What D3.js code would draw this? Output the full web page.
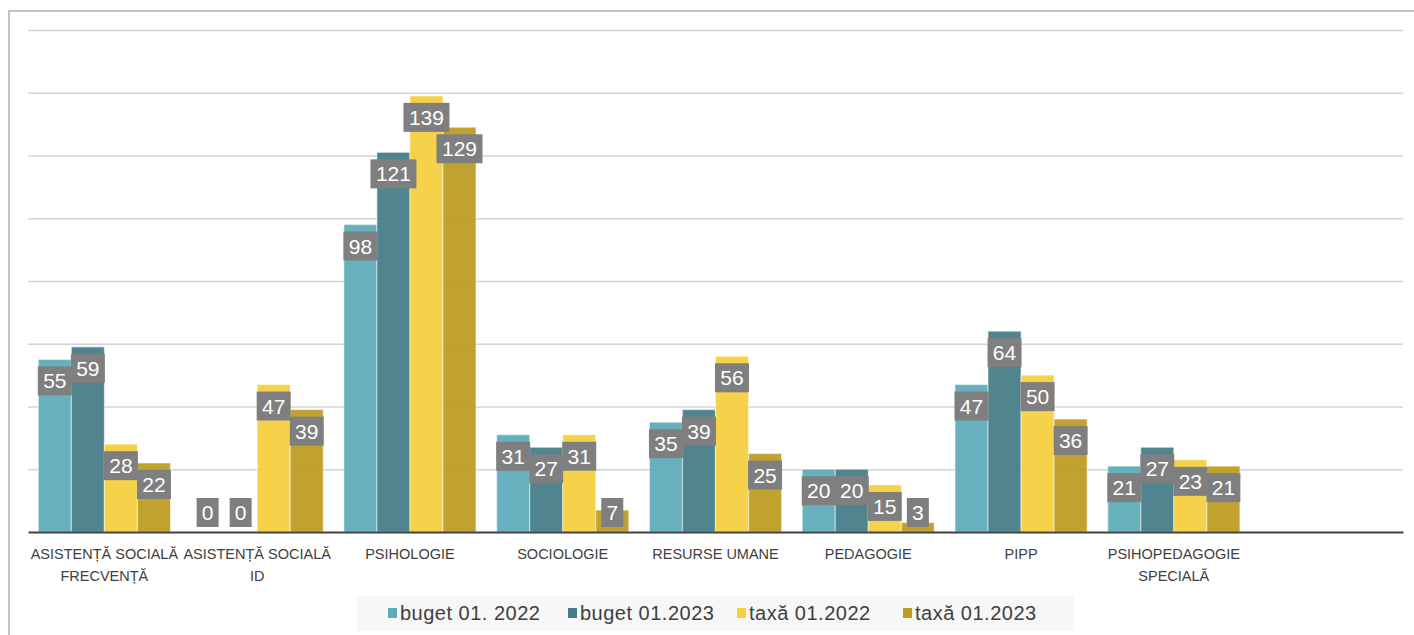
<!DOCTYPE html>
<html><head><meta charset="utf-8">
<script src="https://cdn.jsdelivr.net/npm/d3@7"></script>
<style>
html,body{margin:0;padding:0;background:#fff;}
svg{display:block;font-family:"Liberation Sans",Arial,sans-serif;}
</style></head><body>
<svg id="chart" width="1414" height="635"></svg>
<script>
const categories = ["ASISTENȚĂ SOCIALĂ FRECVENȚĂ","ASISTENȚĂ SOCIALĂ ID","PSIHOLOGIE","SOCIOLOGIE","RESURSE UMANE","PEDAGOGIE","PIPP","PSIHOPEDAGOGIE SPECIALĂ",""];
const categoryLines = [["ASISTENȚĂ SOCIALĂ","FRECVENȚĂ"],["ASISTENȚĂ SOCIALĂ","ID"],["PSIHOLOGIE"],["SOCIOLOGIE"],["RESURSE UMANE"],["PEDAGOGIE"],["PIPP"],["PSIHOPEDAGOGIE","SPECIALĂ"],[]];
const seriesNames = ["buget 01. 2022","buget 01.2023","taxă 01.2022","taxă 01.2023"];
const buget2022 = [55,0,98,31,35,20,47,21];
const buget2023 = [59,0,121,27,39,20,64,27];
const taxa2022 = [28,47,139,31,56,15,50,23];
const taxa2023 = [22,39,129,7,25,3,36,21];
const yTicks = [0,20,40,60,80,100,120,140,160];
const seriesValues = [buget2022,buget2023,taxa2022,taxa2023];
const colors = ["#5BABBA","#437C88","#F5CF3C","#BC9B20"];

const svg = d3.select("#chart");
const margin = {left:28,right:11,top:30,bottom:103};
const W = 1414, H = 635;
const x0 = d3.scaleBand().domain(d3.range(categories.length)).range([margin.left, W-margin.right]).paddingInner(0.135).paddingOuter(0.0675);
const x1 = d3.scaleBand().domain(d3.range(seriesNames.length)).range([0, x0.bandwidth()]);
const y = d3.scaleLinear().domain([0,160]).range([H-margin.bottom, margin.top]);

// frame
svg.append("line").attr("x1",9).attr("x2",9).attr("y1",10).attr("y2",H).attr("stroke","#c4c4c4").attr("stroke-width",2);
svg.append("line").attr("x1",8).attr("x2",W).attr("y1",11).attr("y2",11).attr("stroke","#c4c4c4").attr("stroke-width",2);

// grid
const grid = d3.axisLeft(y).tickValues(yTicks.slice(1)).tickSize(-(W-margin.left-margin.right)).tickFormat("");
const gg = svg.append("g").attr("transform",`translate(${margin.left},0)`).call(grid);
gg.select(".domain").remove();
gg.selectAll(".tick line").attr("stroke","#d4d4d4").attr("stroke-width",1.3);

// bars
const groups = svg.append("g").selectAll("g").data(categories.slice(0,8)).join("g")
  .attr("transform",(d,i)=>`translate(${x0(i)},0)`);
groups.each(function(d,i){
  const g = d3.select(this);
  seriesValues.forEach((vals,s)=>{
    const v = vals[i];
    if(v>0){
      g.append("rect").attr("x",x1(s)).attr("width",x1.bandwidth())
        .attr("y",y(v)).attr("height",y(0)-y(v))
        .attr("fill",colors[s]).attr("fill-opacity",0.93)
        .attr("stroke","#ffffff").attr("stroke-opacity",0.45).attr("stroke-width",1.2);
    }
  });
});

// baseline
const xAxis = d3.axisBottom(x0).tickSize(0).tickFormat("");
const xa = svg.append("g").attr("transform",`translate(0,${y(0)})`).call(xAxis);
xa.select(".domain").attr("stroke","#404040").attr("stroke-width",2);

// labels
groups.each(function(d,i){
  const g = d3.select(this);
  seriesValues.forEach((vals,s)=>{
    const v = vals[i];
    const cx = x1(s)+x1.bandwidth()/2;
    const txt = String(v);
    const bw = txt.length*12+10;
    const bh = 29;
    const top = Math.min(y(v)+7, y(0)-34);
    g.append("rect").attr("x",cx-bw/2).attr("y",top).attr("width",bw).attr("height",bh).attr("fill","#7f7f7f");
    g.append("text").attr("x",cx).attr("y",top+bh/2).attr("dy","0.36em").attr("text-anchor","middle")
      .attr("fill","#ffffff").attr("font-size",21).text(txt);
  });
});

// category labels
svg.append("g").selectAll("text").data(categoryLines).join("text")
  .attr("x",(d,i)=>x0(i)+x0.bandwidth()/2).attr("y",559)
  .attr("text-anchor","middle").attr("fill","#404040").attr("font-size",14.5)
  .each(function(lines){
    d3.select(this).selectAll("tspan").data(lines).join("tspan")
      .attr("x",d3.select(this).attr("x")).attr("dy",(l,k)=>k===0?0:22).text(l=>l);
  });

// legend
const lg = svg.append("g");
lg.append("rect").attr("x",357).attr("y",596).attr("width",717).attr("height",35).attr("fill","#f7f7f7");
const legendX = [388,568,737,903];
seriesNames.forEach((n,s)=>{
  lg.append("rect").attr("x",legendX[s]).attr("y",608).attr("width",9).attr("height",10).attr("fill",colors[s]);
  lg.append("text").attr("x",legendX[s]+12).attr("y",613).attr("dy","0.36em").attr("fill","#404040")
    .attr("font-size",20).attr("letter-spacing",0.5).text(n);
});
</script>
</body></html>
